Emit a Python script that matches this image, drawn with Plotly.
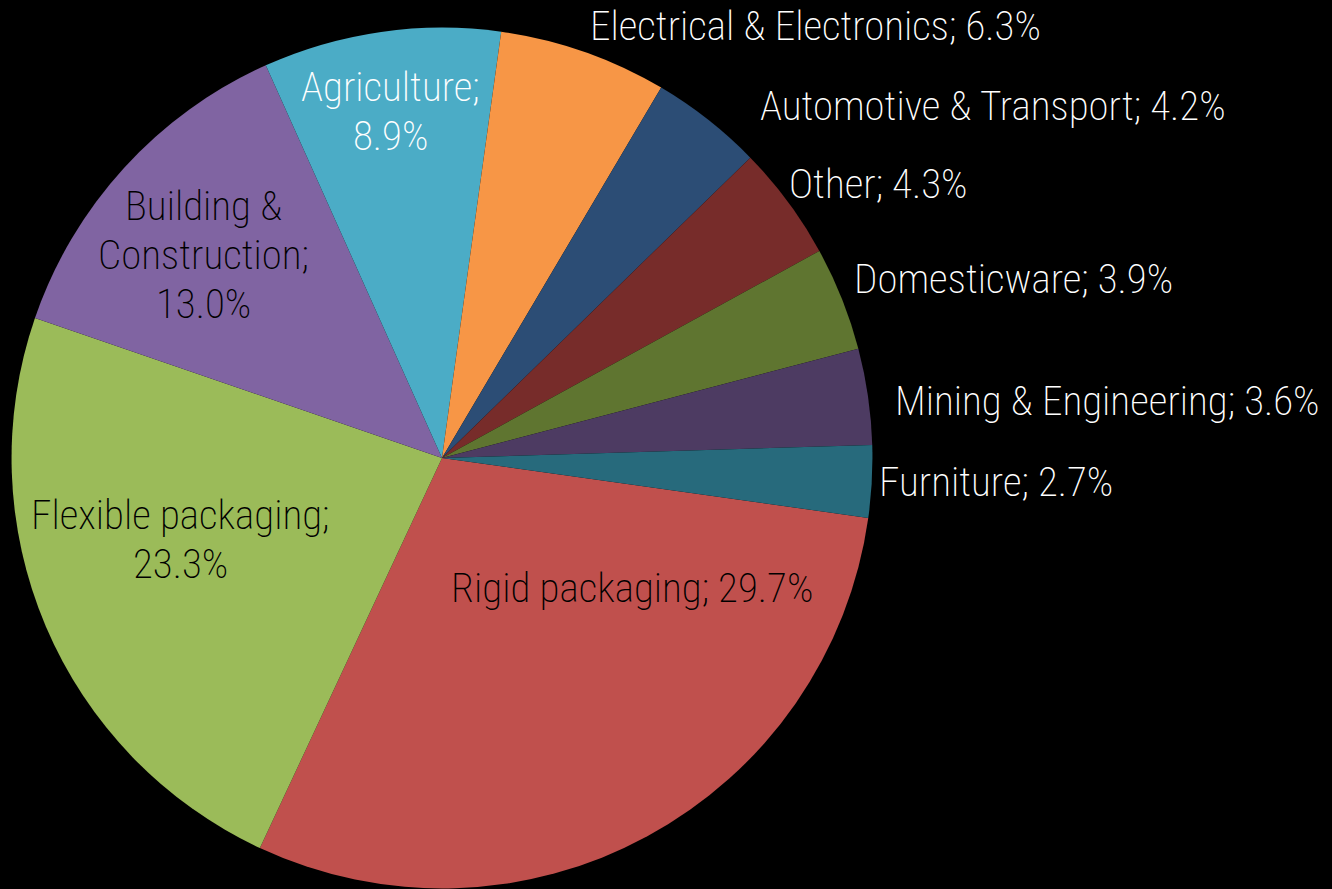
import plotly.graph_objects as go

# ---- data -------------------------------------------------------------
categories = ["Rigid packaging", "Flexible packaging", "Building & Construction", "Agriculture",
              "Electrical & Electronics", "Automotive & Transport", "Other", "Domesticware",
              "Mining & Engineering", "Furniture"]
values = [29.7, 23.3, 13.0, 8.9, 6.3, 4.2, 4.3, 3.9, 3.6, 2.7]
colors = ["#C0504D", "#9BBB59", "#8064A2", "#4BACC6", "#F79646",
          "#2C4D75", "#772C2A", "#5F7530", "#4D3B62", "#276A7C"]

# how each label is broken into lines
label_lines = [
    lambda n, v: [f"{n}; {v:.1f}%"],
    lambda n, v: [f"{n};", f"{v:.1f}%"],
    lambda n, v: ["Building &", "Construction;", f"{v:.1f}%"],
    lambda n, v: [f"{n};", f"{v:.1f}%"],
    lambda n, v: [f"{n}; {v:.1f}%"],
    lambda n, v: [f"{n}; {v:.1f}%"],
    lambda n, v: [f"{n}; {v:.1f}%"],
    lambda n, v: [f"{n}; {v:.1f}%"],
    lambda n, v: [f"{n}; {v:.1f}%"],
    lambda n, v: [f"{n}; {v:.1f}%"],
]

# ---- label placement (pixels in the 1332x889 canvas) ---------------------
W, H = 1332, 889
# (anchor x, first-line centre y, x-anchor, text colour)
label_pos = [
    (632, 588, "center", "#000000"),
    (180, 515, "center", "#000000"),
    (203, 206, "center", "#000000"),
    (390, 87, "center", "#FFFFFF"),
    (590, 26, "left", "#FFFFFF"),
    (760, 106, "left", "#FFFFFF"),
    (789, 184, "left", "#FFFFFF"),
    (854, 279, "left", "#FFFFFF"),
    (895, 401, "left", "#FFFFFF"),
    (879, 482, "left", "#FFFFFF"),
]
LINE_PITCH = 49
FONT = "Roboto Condensed, Roboto, DejaVu Sans Condensed, sans-serif"
FONT_SIZE = 41

fig = go.Figure(go.Pie(
    labels=categories,
    values=values,
    textinfo="none",
    sort=False,
    direction="clockwise",
    rotation=98,
    marker=dict(colors=colors, line=dict(width=0)),
    hoverinfo="label+percent",
    showlegend=False,
    domain=dict(x=[11.5 / W, 872.5 / W], y=[0.0006, 0.969]),
))

for name, val, make, (px, py, anchor, col) in zip(categories, values, label_lines, label_pos):
    for k, line in enumerate(make(name, val)):
        fig.add_annotation(
            x=px / W, y=1 - (py + k * LINE_PITCH) / H, xref="paper", yref="paper",
            xanchor=anchor, yanchor="middle", text=line, showarrow=False,
            borderpad=0, borderwidth=0,
            font=dict(family=FONT, size=FONT_SIZE, color=col, weight=200),
        )

fig.update_layout(
    width=W, height=H,
    margin=dict(l=0, r=0, t=0, b=0),
    paper_bgcolor="#000000",
    plot_bgcolor="#000000",
    font=dict(family=FONT, color="#FFFFFF"),
)

fig.write_html(
    "out.html",
    config={"displayModeBar": False},
    post_script="document.body.style.margin='0px';document.body.style.background='#000000';document.body.style.overflow='hidden';",
)
